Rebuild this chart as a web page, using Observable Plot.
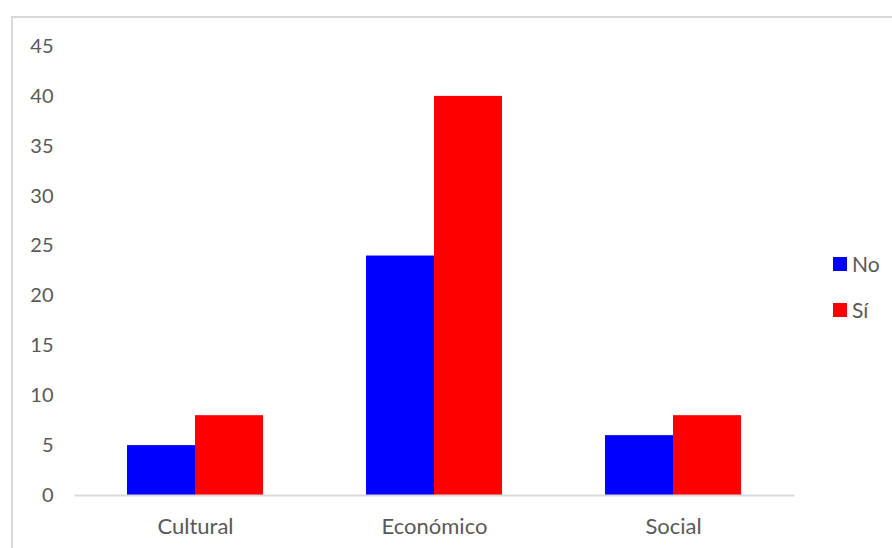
<!DOCTYPE html>
<html>
<head>
<meta charset="utf-8">
<script src="https://cdn.jsdelivr.net/npm/d3@7"></script>
<script src="https://cdn.jsdelivr.net/npm/@observablehq/plot@0.6"></script>
<style>
  html, body { margin: 0; padding: 0; background: #fff; }
  #wrap { position: relative; width: 892px; height: 548px; overflow: hidden; font-family: Lato, "Open Sans", sans-serif; }
  #border { position: absolute; left: 11px; top: 16px; width: 900px; height: 600px; border-top: 2px solid #d9d9d9; border-left: 2px solid #d9d9d9; box-sizing: border-box; }
  #chart { position: absolute; left: 0; top: 0; }
  .leg { position: absolute; left: 833px; display: flex; align-items: center; font-size: 21px; color: #595959; }
  .sw { width: 14px; height: 14px; margin-right: 5px; }
</style>
</head>
<body>
<div id="wrap">
  <div id="border"></div>
  <div id="chart"></div>
  <div id="legend"></div>
</div>
<script>
const categories = ["Cultural", "Económico", "Social"];
const series = ["No", "Sí"];
const seriesColors = ["#0000FF", "#FF0000"];
const noValues = [5, 24, 6];
const siValues = [8, 40, 8];
const yTicks = [0, 5, 10, 15, 20, 25, 30, 35, 40, 45];

const data = categories.flatMap((c, i) => [
  {cat: c, serie: "No", value: noValues[i]},
  {cat: c, serie: "Sí", value: siValues[i]}
]);

const chart = Plot.plot({
  width: 892,
  height: 548,
  marginTop: 46,
  marginBottom: 53,
  marginLeft: 75,
  marginRight: 100,
  style: {fontFamily: 'Lato, "Open Sans", sans-serif', fontSize: "20px", color: "#595959", background: "transparent"},
  fx: {domain: categories, paddingInner: 0.431, paddingOuter: 0.2155},
  x: {domain: series, padding: 0, axis: null},
  y: {domain: [0, 45]},
  color: {domain: series, range: seriesColors},
  marks: [
    Plot.barY(data, {fx: "cat", x: "serie", y: "value", fill: "serie"}),
    Plot.frame({anchor: "bottom", facet: "super", stroke: "#d9d9d9", strokeWidth: 2, insetLeft: -52, insetRight: -52}),
    Plot.axisY(yTicks, {anchor: "left", tickSize: 0, tickPadding: 74, label: null, fontSize: 20}),
    Plot.axisFx({anchor: "bottom", tickSize: 0, tickPadding: 23, label: null, fontSize: 22})
  ]
});
document.getElementById("chart").appendChild(chart);

const legend = document.getElementById("legend");
series.forEach((s, i) => {
  const row = document.createElement("div");
  row.className = "leg";
  row.style.top = (251 + i * 46) + "px";
  const sw = document.createElement("div");
  sw.className = "sw";
  sw.style.background = seriesColors[i];
  const t = document.createElement("span");
  t.textContent = s;
  row.appendChild(sw);
  row.appendChild(t);
  legend.appendChild(row);
});
</script>
</body>
</html>
